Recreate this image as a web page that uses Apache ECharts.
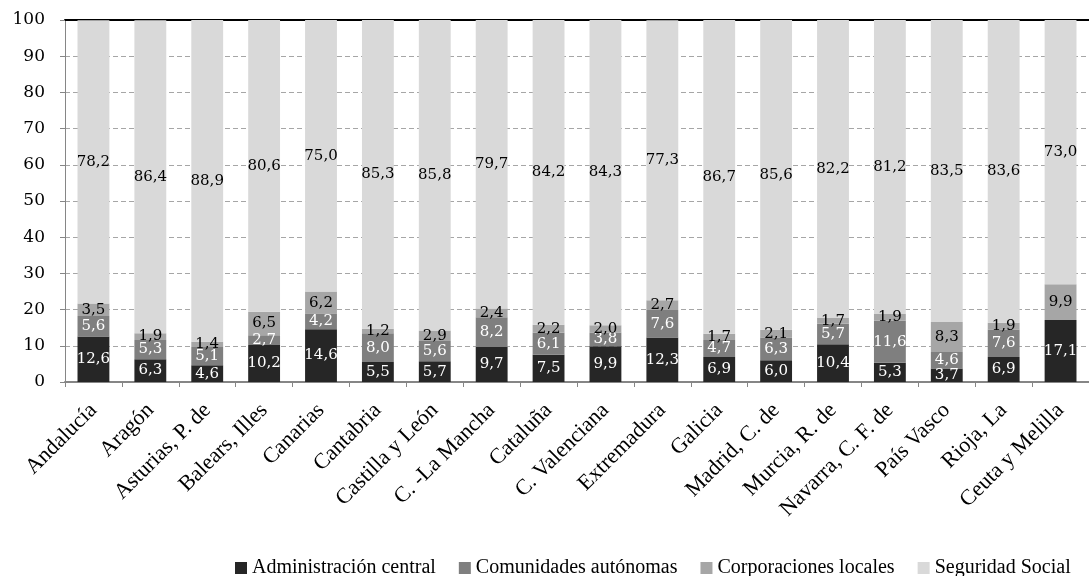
<!DOCTYPE html>
<html>
<head>
<meta charset="utf-8">
<script src="https://cdn.jsdelivr.net/npm/echarts@6/dist/echarts.min.js"></script>
<style>
  html, body { margin: 0; padding: 0; background: #fff; }
  #chart { width: 1089px; height: 576px; }
</style>
</head>
<body>
<div id="chart"></div>
<script>
const regions = ['Andalucía', 'Aragón', 'Asturias, P. de', 'Balears, Illes', 'Canarias', 'Cantabria',
  'Castilla y León', 'C. -La Mancha', 'Cataluña', 'C. Valenciana', 'Extremadura', 'Galicia',
  'Madrid, C. de', 'Murcia, R. de', 'Navarra, C. F. de', 'País Vasco', 'Rioja, La', 'Ceuta y Melilla'];

const adminCentral = [12.6, 6.3, 4.6, 10.2, 14.6, 5.5, 5.7, 9.7, 7.5, 9.9, 12.3, 6.9, 6.0, 10.4, 5.3, 3.7, 6.9, 17.1];
const comunidades = [5.6, 5.3, 5.1, 2.7, 4.2, 8.0, 5.6, 8.2, 6.1, 3.8, 7.6, 4.7, 6.3, 5.7, 11.6, 4.6, 7.6, 0];
const corporaciones = [3.5, 1.9, 1.4, 6.5, 6.2, 1.2, 2.9, 2.4, 2.2, 2.0, 2.7, 1.7, 2.1, 1.7, 1.9, 8.3, 1.9, 9.9];
const seguridadSocial = [78.2, 86.4, 88.9, 80.6, 75.0, 85.3, 85.8, 79.7, 84.2, 84.3, 77.3, 86.7, 85.6, 82.2, 81.2, 83.5, 83.6, 73.0];

const numFont = 'DejaVu Serif';
const textFont = 'Liberation Serif';

const mkSeries = (name, data, color, labelColor) => ({
  name,
  type: 'bar',
  stack: 'total',
  data,
  barWidth: '56%',
  itemStyle: { color },
  label: {
    show: true,
    position: 'inside',
    color: labelColor,
    fontFamily: numFont,
    fontSize: 15,
    formatter: (p) => (p.value ? p.value.toFixed(1).replace('.', ',') : '')
  }
});

const chart = echarts.init(document.getElementById('chart'));
chart.setOption({
  animation: false,
  grid: { left: 65, top: 20, bottom: 194, width: 1033 },
  legend: {
    top: 553,
    left: 230,
    icon: 'rect',
    itemWidth: 12,
    itemHeight: 12,
    itemGap: 23,
    textStyle: { fontFamily: textFont, fontSize: 20, color: '#000' }
  },
  xAxis: [
    {
      type: 'category',
      data: regions,
      axisLine: { lineStyle: { color: '#868686', width: 2 } },
      axisTick: { show: true, length: 5, lineStyle: { color: '#868686' } },
      axisLabel: {
        rotate: 45,
        margin: 25,
        interval: 0,
        color: '#000',
        fontFamily: textFont,
        fontSize: 22
      }
    },
    {
      type: 'category',
      position: 'top',
      data: regions,
      axisLine: { lineStyle: { color: '#000', width: 2 } },
      axisTick: { show: false },
      axisLabel: { show: false }
    }
  ],
  yAxis: {
    type: 'value',
    min: 0,
    max: 100,
    interval: 10,
    axisLine: { show: true, lineStyle: { color: '#868686' } },
    axisTick: { show: true, length: 5, lineStyle: { color: '#868686' } },
    axisLabel: { color: '#000', fontFamily: numFont, fontSize: 17, margin: 20 },
    splitLine: { lineStyle: { color: '#a6a6a6', type: [5, 3] } }
  },
  series: [
    mkSeries('Administración central', adminCentral, '#262626', '#fff'),
    mkSeries('Comunidades autónomas', comunidades, '#7f7f7f', '#fff'),
    mkSeries('Corporaciones locales', corporaciones, '#a6a6a6', '#000'),
    mkSeries('Seguridad Social', seguridadSocial, '#d9d9d9', '#000')
  ]
});
</script>
</body>
</html>
